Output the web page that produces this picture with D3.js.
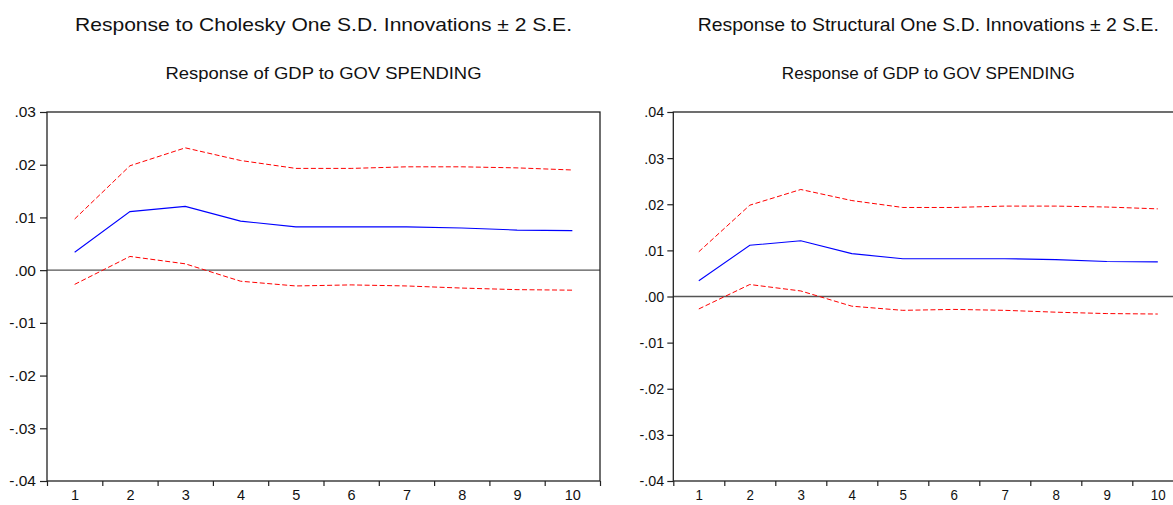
<!DOCTYPE html>
<html>
<head>
<meta charset="utf-8">
<script src="https://cdn.jsdelivr.net/npm/d3@7"></script>
<style>
  html, body { margin: 0; padding: 0; background: #fff; }
  svg { display: block; }
  text { font-family: "Liberation Sans", Arial, sans-serif; fill: #111; }
</style>
</head>
<body>
<svg id="chart" width="1173" height="505"></svg>
<script>
// Impulse response of GDP to a government-spending shock, 10 periods
const periods = [1, 2, 3, 4, 5, 6, 7, 8, 9, 10];
const response   = [0.0034, 0.0111, 0.0121, 0.0093, 0.0082, 0.0082, 0.0082, 0.0080, 0.0076, 0.0075];
const upperBand  = [0.0097, 0.0198, 0.0232, 0.0208, 0.0193, 0.0193, 0.0196, 0.0196, 0.0194, 0.0190];
const lowerBand  = [-0.0027, 0.0026, 0.0012, -0.0021, -0.0030, -0.0028, -0.0030, -0.0034, -0.0037, -0.0038];

const yTicksCholesky   = [-0.04, -0.03, -0.02, -0.01, 0.00, 0.01, 0.02, 0.03];
const yTicksStructural = [-0.04, -0.03, -0.02, -0.01, 0.00, 0.01, 0.02, 0.03, 0.04];

const panelTitles = [
  "Response to Cholesky One S.D. Innovations \u00b1 2 S.E.",
  "Response to Structural One S.D. Innovations \u00b1 2 S.E."
];
const panelSubtitle = "Response of GDP to GOV SPENDING";

// layout of the two panels (the right one is horizontally compressed)
const panels = [
  { left: 47,    step: 55.3, top: 112, bottom: 481, yTicks: yTicksCholesky,   title: panelTitles[0],
    sx: 1,     titleW: 497, subW: 316, tickLen: 7 },
  { left: 673.3, step: 51.0, top: 112, bottom: 481, yTicks: yTicksStructural, title: panelTitles[1],
    sx: 0.922, titleW: 461, subW: 293, tickLen: 6 }
];

const svg = d3.select("#chart");
// ".03", "-.01", ".00" style labels with a plain hyphen
const fmt = v => {
  const s = d3.format(".2f")(Math.abs(v) < 1e-9 ? 0 : Math.abs(v)).replace("0.", ".");
  return (v < -1e-9 ? "-" : "") + s;
};

panels.forEach(p => {
  const right = p.left + p.step * periods.length;
  const x = d3.scaleLinear().domain([0.5, periods.length + 0.5]).range([p.left, right]);
  const y = d3.scaleLinear().domain(d3.extent(p.yTicks)).range([p.bottom, p.top]);
  const cx = (p.left + right) / 2;
  const g = svg.append("g");

  // titles
  g.append("text")
    .attr("x", cx).attr("y", 31)
    .attr("text-anchor", "middle")
    .attr("font-size", 18.5)
    .attr("textLength", p.titleW).attr("lengthAdjust", "spacingAndGlyphs")
    .text(p.title);
  g.append("text")
    .attr("x", cx).attr("y", 79)
    .attr("text-anchor", "middle")
    .attr("font-size", 17)
    .attr("textLength", p.subW).attr("lengthAdjust", "spacingAndGlyphs")
    .text(panelSubtitle);

  // zero reference line
  g.append("line")
    .attr("x1", p.left).attr("x2", right)
    .attr("y1", y(0)).attr("y2", y(0))
    .attr("stroke", "#555").attr("stroke-width", 1.3);

  // confidence bands
  const line = d3.line().x((d, i) => x(periods[i])).y(d => y(d));
  [upperBand, lowerBand].forEach(band => {
    g.append("path")
      .attr("d", line(band))
      .attr("fill", "none")
      .attr("stroke", "#ff0000")
      .attr("stroke-width", 1)
      .attr("stroke-dasharray", "5,2.5");
  });
  // point response
  g.append("path")
    .attr("d", line(response))
    .attr("fill", "none")
    .attr("stroke", "#0000ff")
    .attr("stroke-width", 1.1);

  // frame
  g.append("rect")
    .attr("x", p.left).attr("y", p.top)
    .attr("width", right - p.left).attr("height", p.bottom - p.top)
    .attr("fill", "none").attr("stroke", "#222").attr("stroke-width", 1.3);

  // y axis
  const ya = g.append("g")
    .attr("transform", `translate(${p.left},0)`)
    .call(d3.axisLeft(y).tickValues(p.yTicks).tickFormat(fmt)
      .tickSize(p.tickLen).tickSizeOuter(0).tickPadding(4));
  ya.select(".domain").remove();
  ya.selectAll("line").attr("stroke", "#222").attr("stroke-width", 1.2);
  ya.selectAll("text").attr("font-size", 15.5).attr("fill", "#111")
    .attr("transform", `scale(${p.sx},1)`);

  // x axis: tick marks at period boundaries, labels at period centres
  const boundaries = d3.range(0.5, periods.length + 1, 1);
  const xb = g.append("g")
    .attr("transform", `translate(0,${p.bottom})`)
    .call(d3.axisBottom(x).tickValues(boundaries).tickFormat("").tickSize(5).tickSizeOuter(0));
  xb.select(".domain").remove();
  xb.selectAll("line").attr("stroke", "#222").attr("stroke-width", 1.2);

  const xl = g.append("g")
    .attr("transform", `translate(0,${p.bottom})`)
    .call(d3.axisBottom(x).tickValues(periods).tickFormat(d3.format("d")).tickSize(0).tickPadding(9));
  xl.select(".domain").remove();
  xl.selectAll("text").attr("font-size", 14.5).attr("fill", "#111")
    .attr("transform", `scale(${p.sx},1)`);
});
</script>
</body>
</html>
